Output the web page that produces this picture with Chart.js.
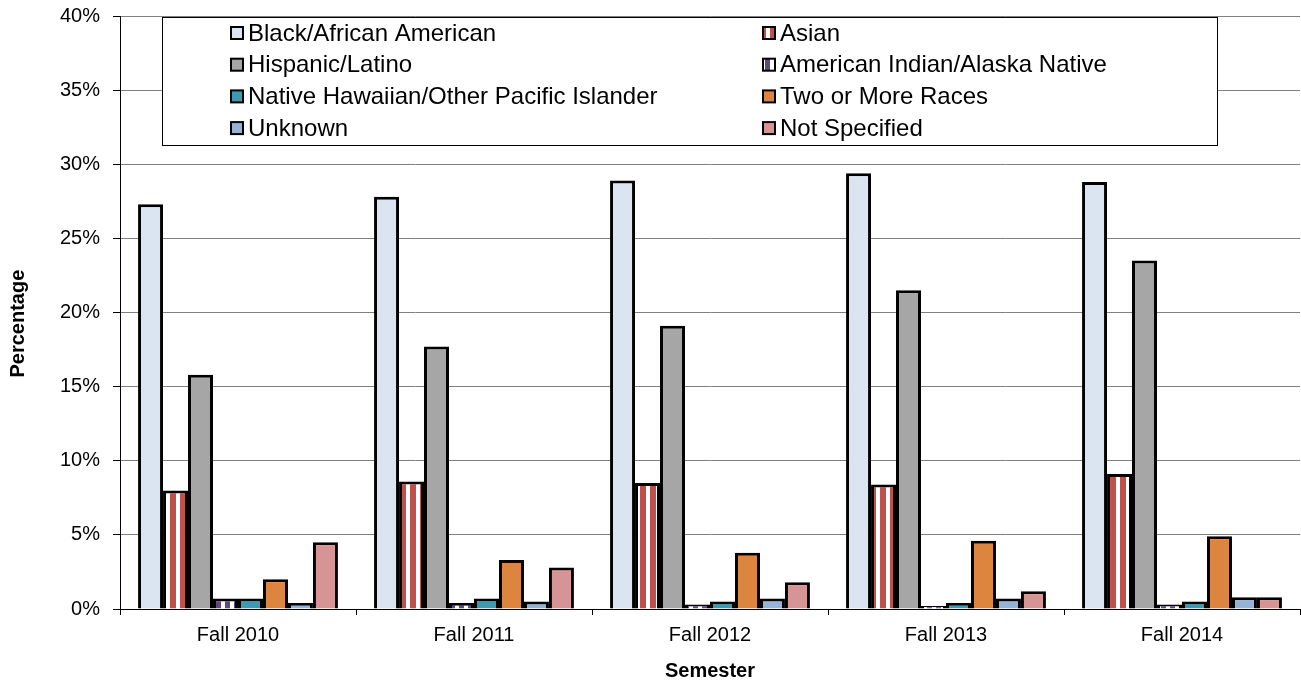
<!DOCTYPE html>
<html>
<head>
<meta charset="utf-8">
<script src="https://cdn.jsdelivr.net/npm/chart.js@4/dist/chart.umd.min.js"></script>
<style>
  html, body { margin: 0; padding: 0; background: #fff; }
  canvas { display: block; }
</style>
</head>
<body>
<canvas id="raceChart" width="1301" height="684"></canvas>
<script>
const semesters = ['Fall 2010', 'Fall 2011', 'Fall 2012', 'Fall 2013', 'Fall 2014'];
const yTicks = [0, 5, 10, 15, 20, 25, 30, 35, 40];

const blackAfricanAmerican = [27.3, 27.8, 28.9, 29.4, 28.8];
const asian = [8.0, 8.6, 8.5, 8.4, 9.1];
const hispanicLatino = [15.8, 17.7, 19.1, 21.5, 23.5];
const americanIndian = [0.7, 0.4, 0.3, 0.2, 0.3];
const nativeHawaiian = [0.7, 0.7, 0.5, 0.4, 0.5];
const twoOrMore = [2.0, 3.3, 3.8, 4.6, 4.9];
const unknown = [0.4, 0.5, 0.7, 0.7, 0.8];
const notSpecified = [4.5, 2.8, 1.8, 1.2, 0.8];

function stripes(c1, w1, c2, w2) {
    const p = document.createElement('canvas');
    p.width = w1 + w2;
    p.height = 4;
    const pc = p.getContext('2d');
    pc.fillStyle = c1;
    pc.fillRect(0, 0, w1, 4);
    pc.fillStyle = c2;
    pc.fillRect(w1, 0, w2, 4);
    return document.getElementById('raceChart').getContext('2d').createPattern(p, 'repeat');
}

const asianFill = stripes('#C0504D', 6, '#ffffff', 4);
const indianFill = stripes('#604A7B', 5, '#ffffff', 4);

function ds(label, data, color) {
    return {
        label: label,
        data: data,
        backgroundColor: color,
        borderColor: '#000000',
        borderWidth: 3,
        borderSkipped: 'bottom'
    };
}

const datasets = [
    ds('Black/African American', blackAfricanAmerican, '#DBE5F1'),
    ds('Asian', asian, asianFill),
    ds('Hispanic/Latino', hispanicLatino, '#A6A6A6'),
    ds('American Indian/Alaska Native', americanIndian, indianFill),
    ds('Native Hawaiian/Other Pacific Islander', nativeHawaiian, '#3D9AB0'),
    ds('Two or More Races', twoOrMore, '#DD853E'),
    ds('Unknown', unknown, '#95B3D7'),
    ds('Not Specified', notSpecified, '#D69594')
];

// legend box drawn over the plot, two columns filled top to bottom
const boxLegend = {
    id: 'boxLegend',
    afterDatasetsDraw(chart) {
        const ctx = chart.ctx;
        const left = 162, top = 17, right = 1217, bottom = 145;
        ctx.save();
        ctx.fillStyle = '#ffffff';
        ctx.fillRect(left, top, right - left, bottom - top);
        ctx.strokeStyle = '#000000';
        ctx.lineWidth = 1;
        ctx.strokeRect(left + 0.5, top + 0.5, right - left, bottom - top);

        ctx.font = '24px "Liberation Sans", Arial, sans-serif';
        ctx.textBaseline = 'middle';
        ctx.textAlign = 'left';
        chart.data.datasets.forEach((d, i) => {
            const col = i % 2;
            const row = Math.floor(i / 2);
            const sx = col === 0 ? 231 : 763;
            const y = top + 16 + row * 31.7;
            ctx.fillStyle = d.backgroundColor;
            ctx.fillRect(sx, y - 6, 12, 12);
            ctx.lineWidth = 2;
            ctx.strokeStyle = '#000000';
            ctx.strokeRect(sx, y - 6, 12, 12);
            ctx.fillStyle = '#000000';
            ctx.fillText(d.label, sx + 17, y + 1);
        });
        ctx.restore();
    }
};

new Chart(document.getElementById('raceChart'), {
    type: 'bar',
    data: { labels: semesters, datasets: datasets },
    options: {
        responsive: false,
        animation: false,
        layout: { padding: { left: 0, top: 16, right: 1, bottom: 0 } },
        datasets: { bar: { categoryPercentage: 0.847, barPercentage: 1.0 } },
        plugins: {
            legend: { display: false },
            tooltip: { enabled: false }
        },
        scales: {
            x: {
                grid: {
                    offset: true,
                    drawOnChartArea: false,
                    drawTicks: true,
                    tickLength: 6,
                    color: '#000000'
                },
                border: { color: '#000000', width: 1 },
                ticks: {
                    color: '#000000',
                    padding: 8,
                    font: { family: '"Liberation Sans", Arial, sans-serif', size: 20 }
                },
                title: {
                    display: true,
                    text: 'Semester',
                    color: '#000000',
                    padding: { top: 0, bottom: 1 },
                    font: { family: '"Liberation Sans", Arial, sans-serif', size: 20, weight: 'bold' }
                },
                afterFit(scale) { scale.height = 75; }
            },
            y: {
                min: 0,
                max: 40,
                afterBuildTicks(scale) {
                    scale.ticks = yTicks.map(v => ({ value: v }));
                },
                grid: {
                    color: '#808080',
                    tickColor: '#000000',
                    tickLength: 7,
                    lineWidth: 1
                },
                border: { color: '#000000', width: 1 },
                ticks: {
                    color: '#000000',
                    padding: 13,
                    callback: v => v + '%',
                    font: { family: '"Liberation Sans", Arial, sans-serif', size: 20 }
                },
                title: {
                    display: true,
                    // trailing spaces nudge the rotated title a little lower, as in the original
                    text: 'Percentage    ',
                    color: '#000000',
                    padding: { top: 6, bottom: 0 },
                    font: { family: '"Liberation Sans", Arial, sans-serif', size: 20, weight: 'bold' }
                },
                afterFit(scale) {
                    scale.width = 120;
                    scale.paddingTop = 0;
                    scale.paddingBottom = 0;
                }
            }
        }
    },
    plugins: [boxLegend]
});
</script>
</body>
</html>
